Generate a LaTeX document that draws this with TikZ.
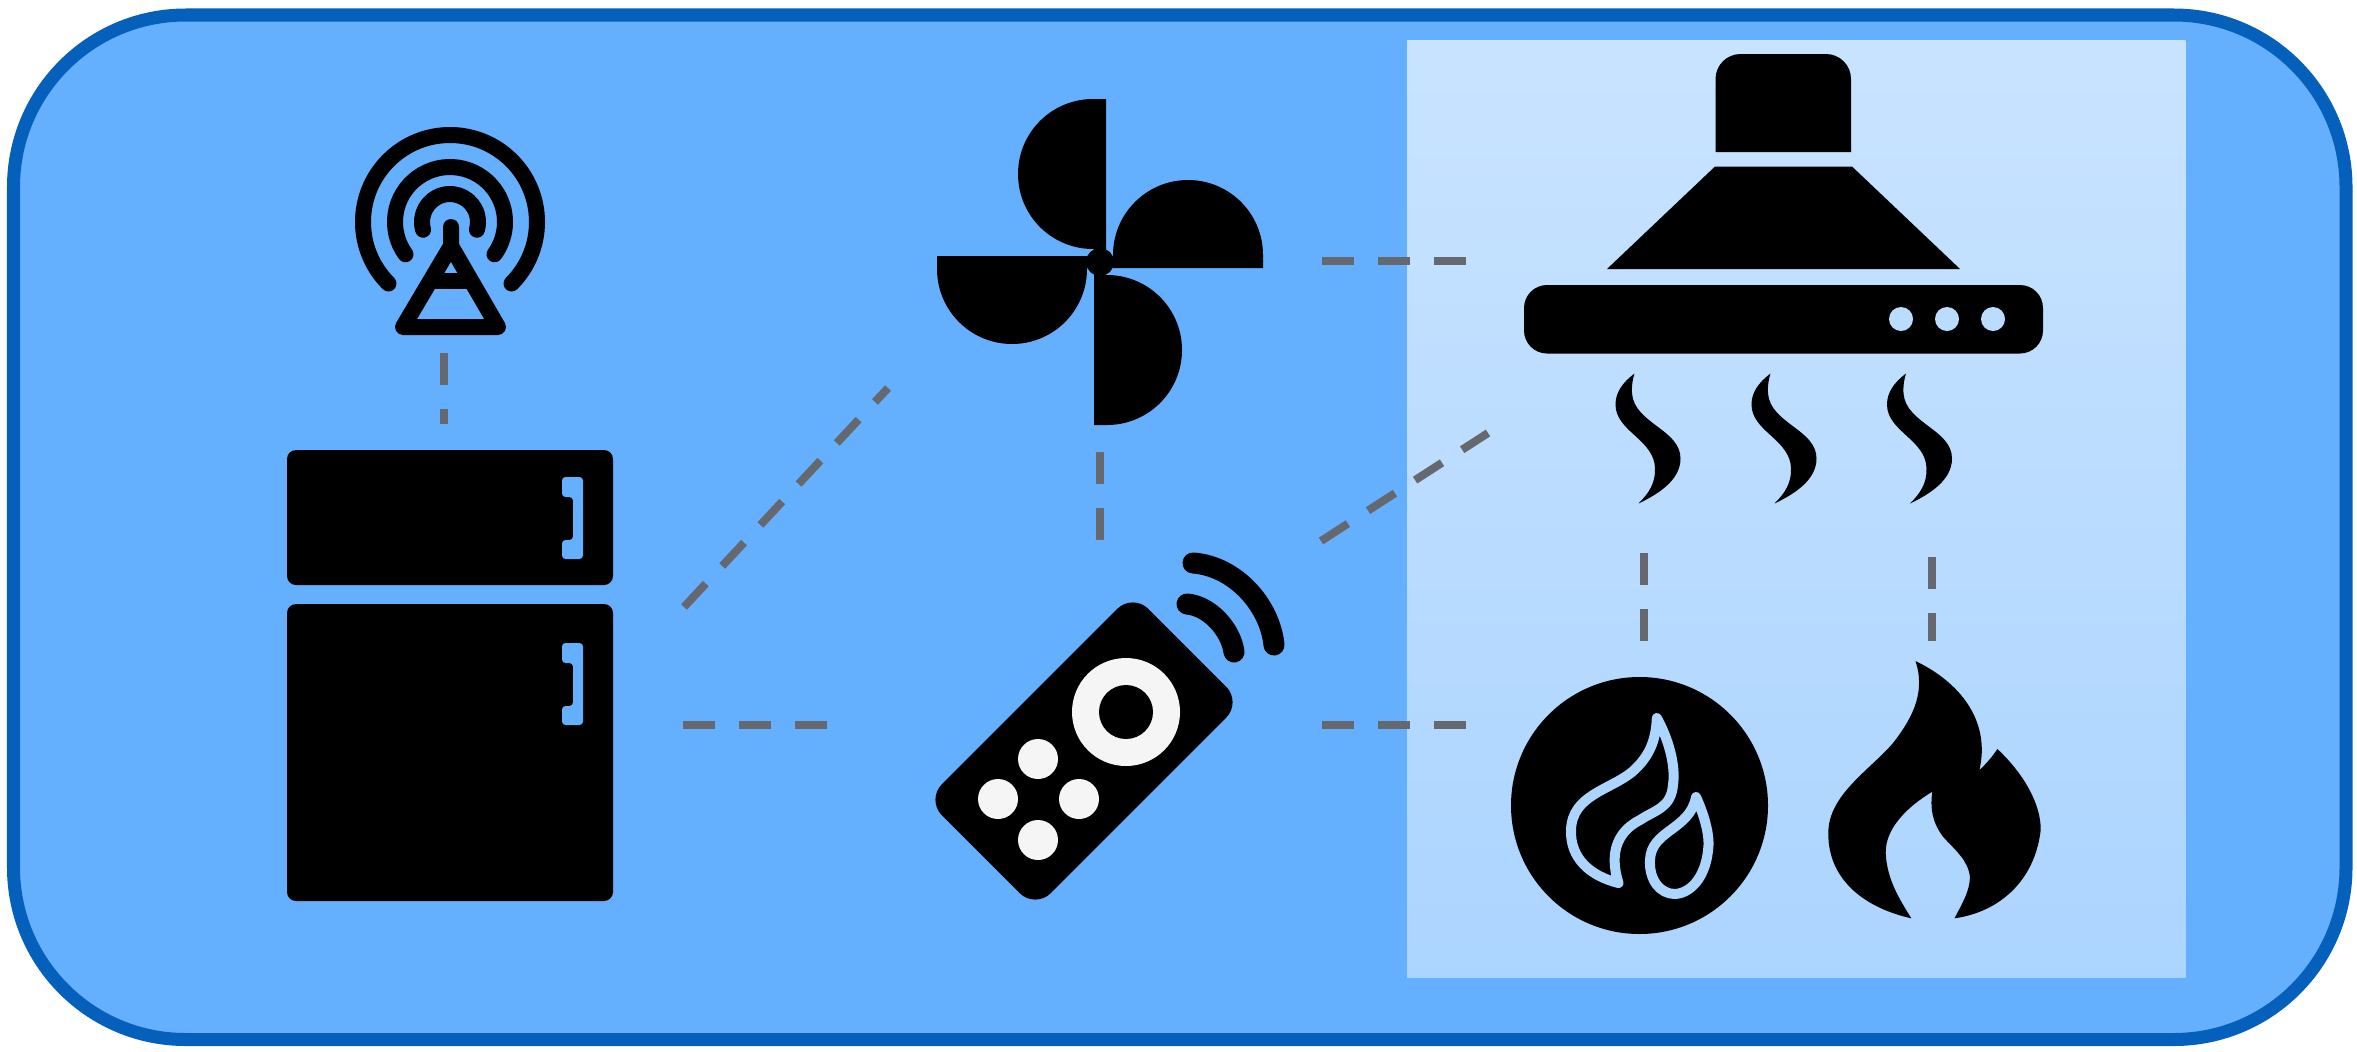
\documentclass[tikz,border=0pt]{standalone}
\usepackage{tikz}
\usetikzlibrary{calc}
\definecolor{boxblue}{HTML}{64B0FF}
\definecolor{edgeblue}{HTML}{0560BC}
\definecolor{linkgray}{HTML}{666870}
\definecolor{keywhite}{HTML}{F5F5F5}
\tikzset{
  icon/.style={fill=black,draw=none},
  ringline/.style={draw=black,line width=0.16cm,line cap=round,line join=round},
  linkline/.style={draw=linkgray,line width=0.08cm,dash pattern=on 0.32cm off 0.24cm},
  flameline/.style={draw=white!46!boxblue,line width=0.1cm,line join=round},
  blade/.pic={\fill[icon] (6,-163) -- (-7,-163) arc[start angle=270,end angle=90,radius=75] -- (6,-13) -- cycle;},
  wisp/.pic={\fill[icon] (0,0) .. controls (-12,9) and (-19,19) .. (-19,31)
    .. controls (-19,58) and (20,66) .. (20.5,95)
    .. controls (21,110) and (14,120) .. (4,130)
    .. controls (25,120) and (46,106) .. (46,85)
    .. controls (46,56) and (0,50) .. (-2.5,20)
    .. controls (-3,13) and (-2,6) .. (0,0) -- cycle;},
  handle/.pic={\fill[boxblue,rounded corners=0.035cm] (0,0) -- (21,0) -- (21,82) -- (0,82) -- (0,63) -- (11,63) -- (11,20) -- (0,20) -- cycle;}
}
\begin{document}
\begin{tikzpicture}[x=0.01cm,y=-0.01cm]
\useasboundingbox (0,0) rectangle (2357,1051);
\fill[white] (0,0) rectangle (2357,1051);
\draw[edgeblue,fill=boxblue,line width=0.13cm,rounded corners=1.72cm] (13.5,15) rectangle (2346,1039.5);
\shade[top color=white!65!boxblue,bottom color=white!46!boxblue] (1407,40) rectangle (2185.5,977);

\coordinate (mastS) at (444,353);
\coordinate (fridgeN) at (444,424);
\coordinate (fridgeNE) at (684,607);
\coordinate (fanSW) at (888,388);
\coordinate (fridgeE) at (683,725);
\coordinate (remoteW) at (828,725);
\coordinate (fanS) at (1100,452);
\coordinate (remoteN) at (1100,540);
\coordinate (fanE) at (1322,261);
\coordinate (hoodW) at (1466,261);
\coordinate (remoteNE) at (1321,541);
\coordinate (hoodSW) at (1488,433);
\coordinate (remoteE) at (1322,725);
\coordinate (gasW) at (1466,725);
\coordinate (hoodS) at (1644,553);
\coordinate (gasN) at (1644,642);
\coordinate (hoodSE) at (1932,557);
\coordinate (fireN) at (1932,641);

\draw[linkline] (mastS) -- (fridgeN);
\draw[linkline] (fridgeNE) -- (fanSW);
\draw[linkline] (fridgeE) -- (remoteW);
\draw[linkline] (fanS) -- (remoteN);
\draw[linkline] (fanE) -- (hoodW);
\draw[linkline] (remoteNE) -- (hoodSW);
\draw[linkline] (remoteE) -- (gasW);
\draw[linkline] (hoodS) -- (gasN);
\draw[linkline] (hoodSE) -- (fireN);

\draw[ringline] (450,222) ++(135:87) arc[start angle=135,end angle=405,radius=87];
\draw[ringline] (450,222) ++(144:55) arc[start angle=144,end angle=396,radius=55];
\draw[ringline] (450,222) ++(164:28) arc[start angle=164,end angle=376,radius=28];
\draw[ringline] (451,227) -- (451,246) -- (403,327) -- (498,327) -- (451,246);
\draw[ringline,line cap=butt] (431,281) -- (471,281);

\fill[icon,rounded corners=0.09cm] (287,450) rectangle (613,585);
\fill[icon,rounded corners=0.09cm] (287,604) rectangle (613,901);
\pic at (562,477) {handle};
\pic at (562,643) {handle};

\fill[icon] (1100,262) circle (14);
\pic at (1100,262) {blade};
\pic[rotate=-90] at (1100,262) {blade};
\pic[rotate=180] at (1100,262) {blade};
\pic[rotate=90] at (1100,262) {blade};

\fill[icon,rounded corners=0.22cm,shift={(1084,751)},rotate=45] (-146,-77) rectangle (146,77);
\fill[keywhite] (1126,712) circle (54);
\fill[icon] (1126,712) circle (27);
\fill[keywhite] (1038,759) circle (20);
\fill[keywhite] (998,799) circle (20);
\fill[keywhite] (1079,799) circle (20);
\fill[keywhite] (1038,840) circle (20);
\draw[black,line width=0.21cm,line cap=round] (1193,563) .. controls (1235,566) and (1270,605) .. (1274,645);
\draw[black,line width=0.21cm,line cap=round] (1187,604) .. controls (1210,606) and (1231,630) .. (1234,652);

\fill[icon] (1715.5,152) [rounded corners=0.25cm] -- (1715.5,54) -- (1851,54) [sharp corners] -- (1851,152) -- cycle;
\fill[icon] (1715,166.5) -- (1852,166.5) -- (1960,269) -- (1607,269) -- cycle;
\fill[icon,rounded corners=0.23cm] (1524,285) rectangle (2043,353.5);
\fill[white!55!boxblue] (1901,319) circle (12);
\fill[white!55!boxblue] (1947,319) circle (12);
\fill[white!55!boxblue] (1993,319) circle (12);
\pic at (1634.5,373.5) {wisp};
\pic at (1770.5,373.5) {wisp};
\pic at (1906,373.5) {wisp};

\fill[icon] (1639.5,805.5) circle (128.5);
\draw[flameline] (1656.8,718) .. controls (1668,738) and (1676,765) .. (1673,785)
  .. controls (1671,808) and (1655,810) .. (1640,820)
  .. controls (1620,830) and (1608,850) .. (1618.5,883)
  .. controls (1590,876) and (1570,858) .. (1571,830)
  .. controls (1572,795) and (1610,790) .. (1632,772)
  .. controls (1648,758) and (1656,742) .. (1656.8,718) -- cycle;
\draw[flameline] (1696,797) .. controls (1702,810) and (1709,830) .. (1708.5,845)
  .. controls (1707,875) and (1692,893) .. (1675,894)
  .. controls (1660,894) and (1649,880) .. (1650,860)
  .. controls (1651,830) and (1690,830) .. (1696,797) -- cycle;

\fill[icon] (1915.5,661) .. controls (1965,685) and (1990,725) .. (1979.4,770)
  .. controls (1986,764) and (1992,757) .. (1997.4,749)
  .. controls (2025,775) and (2041,805) .. (2040.7,830)
  .. controls (2035,880) and (2000,912) .. (1954.5,918.3)
  .. controls (1963,902) and (1970,890) .. (1969.9,876.7)
  .. controls (1968,860) and (1955,850) .. (1943,836.7)
  .. controls (1932,822) and (1930,808) .. (1932.3,791.7)
  .. controls (1905,808) and (1885,830) .. (1885.7,853.3)
  .. controls (1887,880) and (1900,900) .. (1911.3,918.3)
  .. controls (1865,908) and (1828,880) .. (1828.3,833.3)
  .. controls (1828,795) and (1870,770) .. (1893,743)
  .. controls (1915,715) and (1925,690) .. (1915.5,661) -- cycle;
\end{tikzpicture}
\end{document}
